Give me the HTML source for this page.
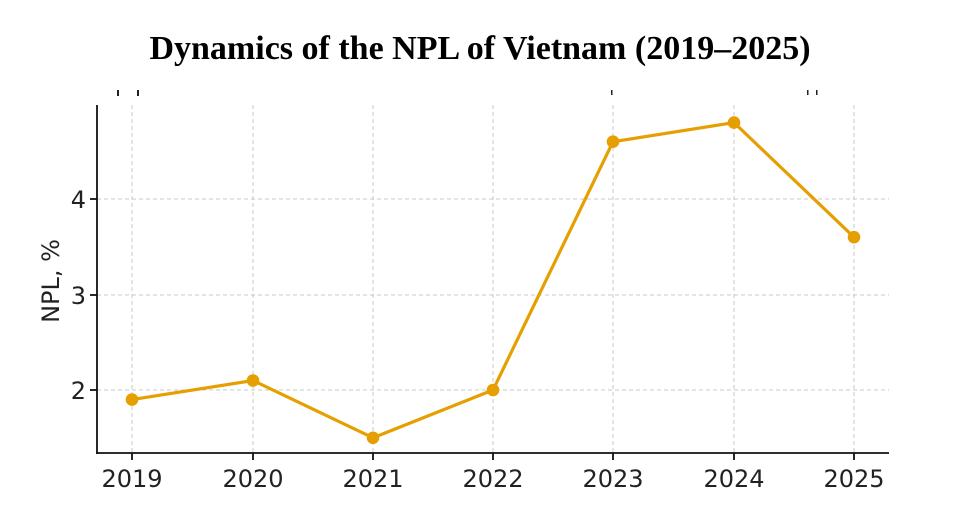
<!DOCTYPE html>
<html><head><meta charset="utf-8"><style>
body{margin:0;background:#fff;width:961px;height:520px;overflow:hidden}
</style></head><body>
<svg width="961" height="520" xmlns="http://www.w3.org/2000/svg">
<text x="480" y="59" text-anchor="middle" font-family="Liberation Serif, serif" font-weight="bold" font-size="34">Dynamics of the NPL of Vietnam (2019–2025)</text>
<g fill="#222"><rect x="117" y="90" width="2" height="6"/><rect x="137" y="90" width="2" height="6"/><rect x="611" y="90" width="1.5" height="5"/><rect x="807" y="90" width="1.5" height="5"/><rect x="816" y="90" width="1.5" height="5"/></g>
<g stroke="#c8c8c8" stroke-width="1" stroke-dasharray="4,3">
<line x1="132" y1="105" x2="132" y2="453"/><line x1="253" y1="105" x2="253" y2="453"/><line x1="373" y1="105" x2="373" y2="453"/><line x1="493" y1="105" x2="493" y2="453"/><line x1="613" y1="105" x2="613" y2="453"/><line x1="734" y1="105" x2="734" y2="453"/><line x1="854" y1="105" x2="854" y2="453"/>
<line x1="97" y1="390" x2="889" y2="390"/><line x1="97" y1="295" x2="889" y2="295"/><line x1="97" y1="199" x2="889" y2="199"/>
</g>
<g stroke="#111" stroke-width="1.8">
<line x1="97" y1="105" x2="97" y2="454"/><line x1="96" y1="453" x2="889" y2="453"/>
<line x1="90" y1="390" x2="97" y2="390"/><line x1="90" y1="295" x2="97" y2="295"/><line x1="90" y1="199" x2="97" y2="199"/>
<line x1="132" y1="453" x2="132" y2="460"/><line x1="253" y1="453" x2="253" y2="460"/><line x1="373" y1="453" x2="373" y2="460"/><line x1="493" y1="453" x2="493" y2="460"/><line x1="613" y1="453" x2="613" y2="460"/><line x1="734" y1="453" x2="734" y2="460"/><line x1="854" y1="453" x2="854" y2="460"/>
</g>
<g font-family="DejaVu Sans, sans-serif" font-size="24" fill="#222">
<text x="86" y="399" text-anchor="end">2</text><text x="86" y="304" text-anchor="end">3</text><text x="86" y="208" text-anchor="end">4</text>
<g text-anchor="middle"><text x="132" y="487">2019</text><text x="253" y="487">2020</text><text x="373" y="487">2021</text><text x="493" y="487">2022</text><text x="613" y="487">2023</text><text x="734" y="487">2024</text><text x="854" y="487">2025</text></g>
<text transform="translate(59,281) rotate(-90)" text-anchor="middle">NPL, %</text>
</g>
<polyline fill="none" stroke="#e69f00" stroke-width="3.2" points="132,399.6 253,380.5 373,437.8 493,390 613,141.7 734,122.6 854,237.2"/>
<g fill="#e69f00"><circle cx="132" cy="399.6" r="6.3"/><circle cx="253" cy="380.5" r="6.3"/><circle cx="373" cy="437.8" r="6.3"/><circle cx="493" cy="390" r="6.3"/><circle cx="613" cy="141.7" r="6.3"/><circle cx="734" cy="122.6" r="6.3"/><circle cx="854" cy="237.2" r="6.3"/></g>
</svg>
</body></html>
